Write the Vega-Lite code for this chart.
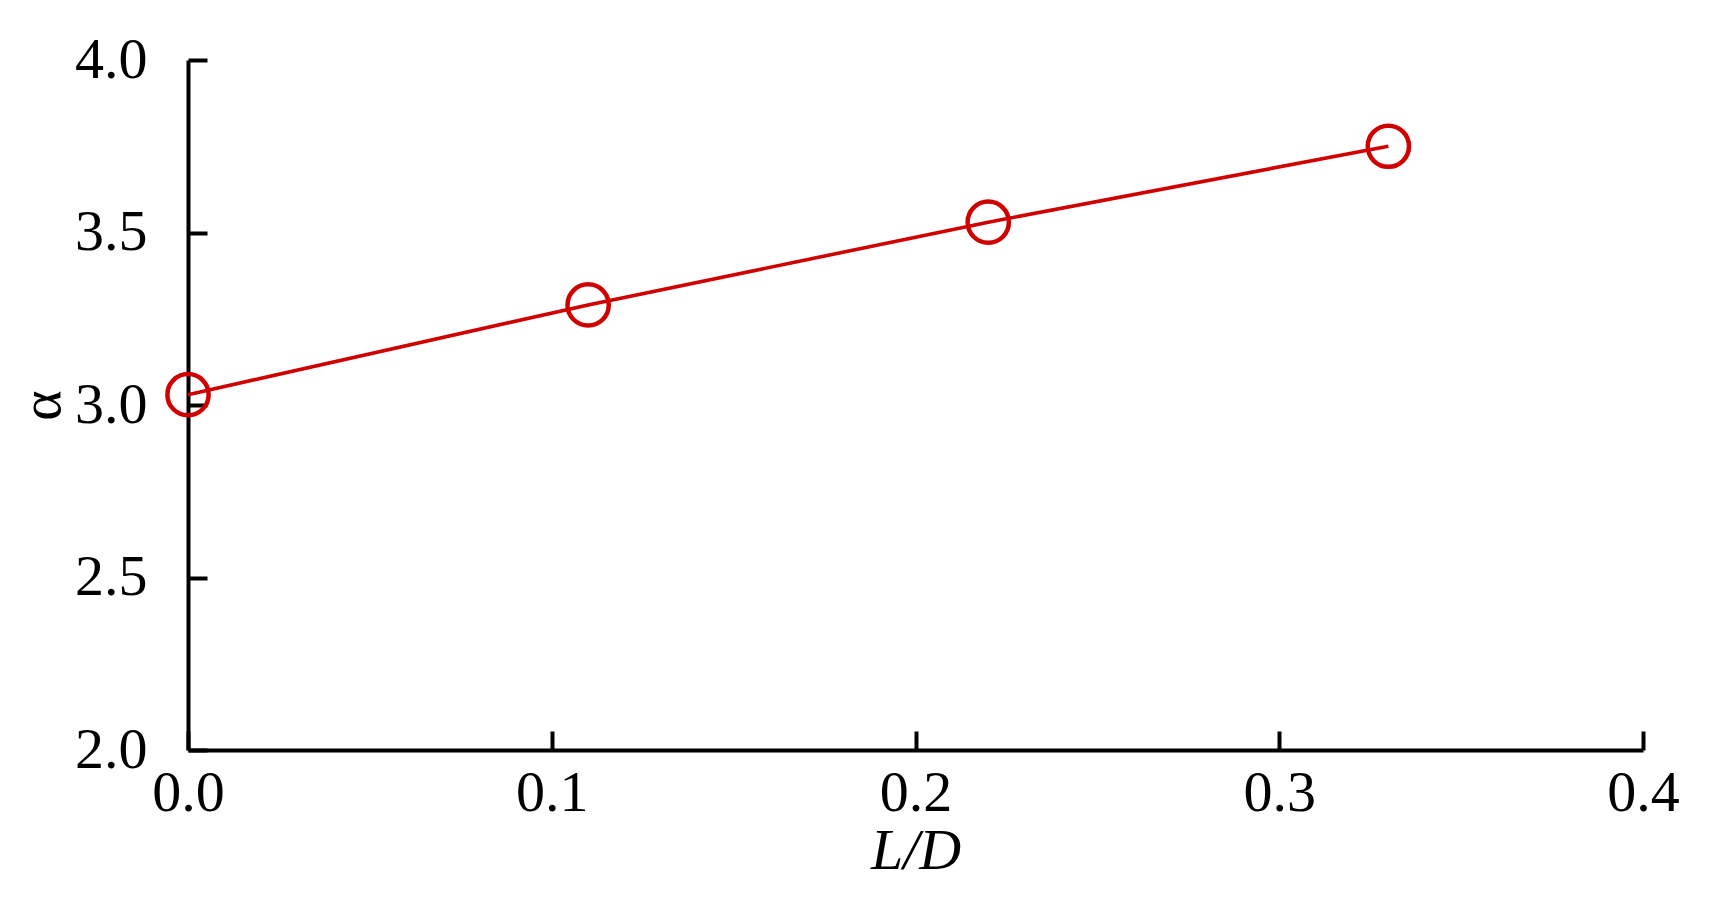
{
  "$schema": "https://vega.github.io/schema/vega-lite/v6.json",
  "autosize": "none",
  "width": 1455,
  "height": 690,
  "padding": {"left": 188, "top": 60, "right": 92, "bottom": 157},
  "background": "white",
  "config": {
    "view": {"stroke": null},
    "axis": {
      "labelFont": "Liberation Serif",
      "titleFont": "Liberation Serif",
      "labelFontSize": 58,
      "titleFontSize": 58,
      "labelColor": "black",
      "titleColor": "black",
      "domainColor": "black",
      "tickColor": "black",
      "domainWidth": 4,
      "tickWidth": 4,
      "tickSize": -19,
      "grid": false,
      "titleFontWeight": "normal"
    }
  },
  "data": {
    "values": [
      {"LD": 0.0, "alpha": 3.03},
      {"LD": 0.11, "alpha": 3.29},
      {"LD": 0.22, "alpha": 3.53},
      {"LD": 0.33, "alpha": 3.75}
    ]
  },
  "layer": [
    {
      "mark": {"type": "line", "color": "#d00000", "strokeWidth": 3.6},
      "encoding": {
        "x": {"field": "LD", "type": "quantitative", "scale": {"domain": [0, 0.4], "nice": false},
              "axis": {"values": [0, 0.1, 0.2, 0.3, 0.4], "format": ".1f", "title": "L/D", "titleFontStyle": "italic", "labelPadding": 33, "labelBaseline": "top", "titlePadding": 0, "labelFlush": false}},
        "y": {"field": "alpha", "type": "quantitative", "scale": {"domain": [2, 4], "nice": false, "zero": false},
              "axis": {"values": [2, 2.5, 3, 3.5, 4], "format": ".1f", "title": "α", "labelPadding": 60, "titlePadding": 3, "labelFlush": false}}
      }
    },
    {
      "mark": {"type": "point", "shape": "circle", "filled": false, "color": "#d00000", "strokeWidth": 4.5, "size": 1700, "opacity": 1},
      "encoding": {
        "x": {"field": "LD", "type": "quantitative"},
        "y": {"field": "alpha", "type": "quantitative"}
      }
    }
  ]
}
